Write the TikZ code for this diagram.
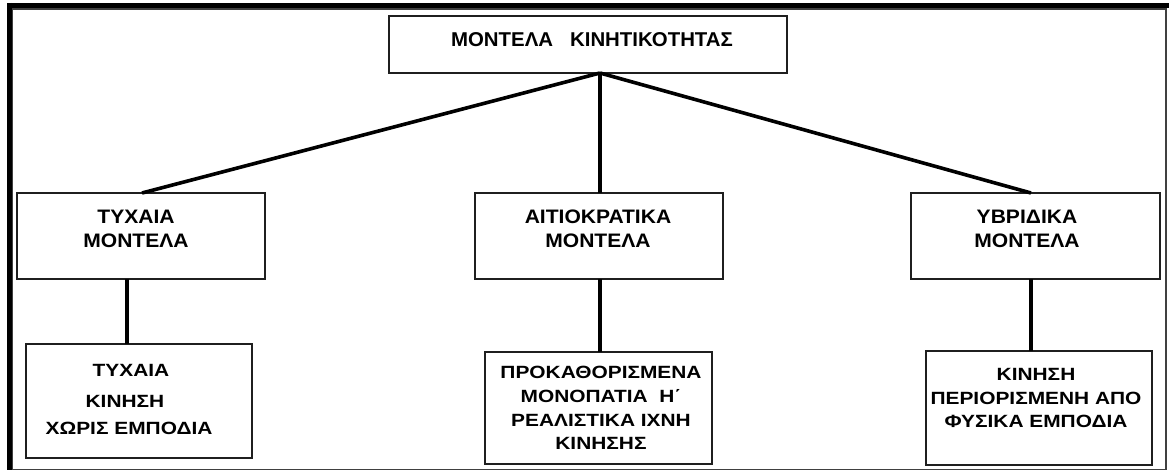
\documentclass[tikz,border=0pt]{standalone}
\usepackage{fontspec}
\setmainfont{Liberation Sans}
\newfontfamily\fontA[FakeStretch=1.02]{Liberation Sans}
\newfontfamily\fontB[FakeStretch=1.08]{Liberation Sans}
\newfontfamily\fontC[FakeStretch=1.18]{Liberation Sans}
\begin{document}
\begin{tikzpicture}[x=1pt,y=-1pt,
  box/.style={draw=black!88,line width=1.8pt,inner sep=0pt,outer sep=0pt},
  conn/.style={line width=3.6pt,black},
  ttop/.style={anchor=north,inner sep=0pt,align=center,font=\fontA\bfseries\fontsize{20}{24}\selectfont},
  tmid/.style={anchor=north,inner sep=0pt,align=center,font=\fontB\bfseries\fontsize{19.5}{24}\selectfont},
  tlow/.style={anchor=north,inner sep=0pt,align=center,font=\fontC\bfseries\fontsize{17.7}{23.8}\selectfont}]
\useasboundingbox (0,0) rectangle (1169,473);
\fill[white] (0,0) rectangle (1169,473);
% frame
\draw[black!75,line width=1.2pt] (12,9) rectangle (1166,469.5);
\draw[black,line width=5pt] (9.5,3) -- (9.5,470);
\draw[black,line width=5pt] (7,5.5) -- (1169,5.5);
% boxes
\node[box,minimum width=398pt,minimum height=57pt] (top) at (588,44.5) {};
\node[box,minimum width=248pt,minimum height=86pt] (l2a) at (141,236) {};
\node[box,minimum width=248pt,minimum height=86pt] (l2b) at (599,236) {};
\node[box,minimum width=249pt,minimum height=86pt] (l2c) at (1035.5,236) {};
\node[box,minimum width=226pt,minimum height=114pt] (l3a) at (139,401) {};
\node[box,minimum width=227pt,minimum height=112pt] (l3b) at (598.5,408) {};
\node[box,minimum width=226pt,minimum height=114pt] (l3c) at (1039,408) {};
% texts
\node[ttop] (ttxt) at (592,32) {ΜΟΝΤΕΛΑ\ \ \ ΚΙΝΗΤΙΚΟΤΗΤΑΣ};
\node[tmid] (atxt) at (136,210) {ΤΥΧΑΙΑ\\ΜΟΝΤΕΛΑ};
\node[tmid] (btxt) at (598,210) {ΑΙΤΙΟΚΡΑΤΙΚΑ\\ΜΟΝΤΕΛΑ};
\node[tmid] (ctxt) at (1027,210) {ΥΒΡΙΔΙΚΑ\\ΜΟΝΤΕΛΑ};
\node[tlow,anchor=north] (dtxt1) at (131,364) {ΤΥΧΑΙΑ};
\node[tlow,anchor=north] (dtxt2) at (125,395) {ΚΙΝΗΣΗ};
\node[tlow,anchor=north] (dtxt3) at (129,421.5) {ΧΩΡΙΣ ΕΜΠΟΔΙΑ};
\node[tlow] (etxt) at (601,366) {ΠΡΟΚΑΘΟΡΙΣΜΕΝΑ\\ΜΟΝΟΠΑΤΙΑ\ \ Η΄\\ΡΕΑΛΙΣΤΙΚΑ ΙΧΝΗ\\ΚΙΝΗΣΗΣ};
\node[tlow] (ftxt) at (1036,368) {ΚΙΝΗΣΗ\\ΠΕΡΙΟΡΙΣΜΕΝΗ ΑΠΟ\\ΦΥΣΙΚΑ ΕΜΠΟΔΙΑ};
% connectors
\coordinate (j) at ([xshift=12pt]top.south);
\draw[conn] (j) -- ([xshift=1pt]l2a.north);
\draw[conn] (j) -- ([xshift=1pt]l2b.north);
\draw[conn] (j) -- ([xshift=-4.5pt]l2c.north);
\draw[conn] ([xshift=-14pt]l2a.south) -- ([xshift=-14pt]l2a.south |- l3a.north);
\draw[conn] ([xshift=1pt]l2b.south) -- ([xshift=1pt]l2b.south |- l3b.north);
\draw[conn] ([xshift=-4.5pt]l2c.south) -- ([xshift=-4.5pt]l2c.south |- l3c.north);
\end{tikzpicture}
\end{document}
